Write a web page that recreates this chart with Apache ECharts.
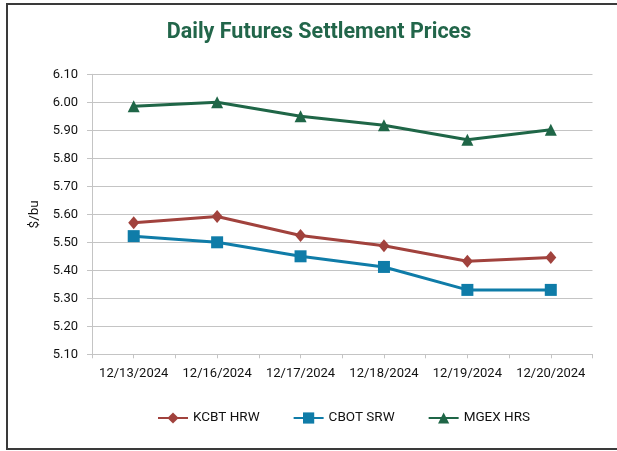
<!DOCTYPE html>
<html>
<head>
<meta charset="utf-8">
<script src="https://cdn.jsdelivr.net/npm/echarts@6/dist/echarts.min.js"></script>
<style>
  html, body { margin: 0; padding: 0; background: #ffffff; }
  #frame { position: absolute; left: 6px; top: 3px; width: 620px; height: 447px; border: 2px solid #3a3a3a; box-sizing: border-box; }
  #chart { position: absolute; left: 0; top: 0; width: 617px; height: 451px; }
</style>
</head>
<body>
<div id="frame"></div>
<div id="chart"></div>
<script>
const categories = ['12/13/2024', '12/16/2024', '12/17/2024', '12/18/2024', '12/19/2024', '12/20/2024'];
const kcbtHRW = [5.570, 5.592, 5.524, 5.488, 5.432, 5.446];
const cbotSRW = [5.522, 5.500, 5.450, 5.412, 5.330, 5.330];
const mgexHRS = [5.986, 6.000, 5.950, 5.918, 5.866, 5.902];
const seriesNames = ['KCBT HRW', 'CBOT SRW', 'MGEX HRS'];

const chart = echarts.init(document.getElementById('chart'), null, { renderer: 'canvas' });
const font = 'Roboto, "Liberation Sans", sans-serif';
const gridColor = '#c4c4c4';

chart.setOption({
  animation: false,
  backgroundColor: 'transparent',
  title: {
    text: 'Daily Futures Settlement Prices',
    left: 314, top: 17, textAlign: 'center',
    textStyle: { fontFamily: font, fontWeight: 'bold', fontSize: 21.5, color: '#22664a' }
  },
  legend: {
    left: 157, top: 411, padding: 0,
    itemWidth: 30, itemHeight: 14, itemGap: 33,
    textStyle: { fontFamily: font, fontSize: 13.5, color: '#111' },
    data: seriesNames
  },
  grid: { left: 92, right: 24.5, top: 74.3, bottom: 96.7, containLabel: false },
  xAxis: [{
    type: 'category', data: categories, boundaryGap: true,
    axisLine: { lineStyle: { color: gridColor, width: 1 } },
    axisTick: { show: true, length: 4, lineStyle: { color: gridColor } },
    axisLabel: { interval: 0, margin: 13, fontFamily: font, fontSize: 13, color: '#111' }
  }, {
    type: 'category', data: categories, boundaryGap: true, position: 'bottom',
    axisLine: { show: false },
    axisTick: { show: true, alignWithLabel: true, length: 4, lineStyle: { color: gridColor } },
    axisLabel: { show: false }
  }],
  yAxis: {
    type: 'value', min: 5.1, max: 6.1, interval: 0.1,
    name: '$/bu', nameLocation: 'middle', nameGap: 40, nameRotate: 90,
    nameTextStyle: { fontFamily: font, fontSize: 13.5, color: '#111' },
    axisLine: { show: true, lineStyle: { color: gridColor } },
    axisTick: { show: true, length: 5, lineStyle: { color: gridColor } },
    axisLabel: { margin: 14, fontFamily: font, fontSize: 13, color: '#111', formatter: v => v.toFixed(2) },
    splitLine: { show: true, lineStyle: { color: gridColor, width: 1 } }
  },
  series: [
    { name: seriesNames[0], type: 'line', data: kcbtHRW, symbol: 'diamond', symbolSize: [11, 13],
      lineStyle: { color: '#a1423d', width: 3 }, itemStyle: { color: '#a1423d' } },
    { name: seriesNames[1], type: 'line', data: cbotSRW, symbol: 'rect', symbolSize: 12,
      lineStyle: { color: '#0f7ca8', width: 3 }, itemStyle: { color: '#0f7ca8' } },
    { name: seriesNames[2], type: 'line', data: mgexHRS, symbol: 'triangle', symbolSize: 12,
      lineStyle: { color: '#1f6647', width: 3 }, itemStyle: { color: '#1f6647' } }
  ]
});
</script>
</body>
</html>
